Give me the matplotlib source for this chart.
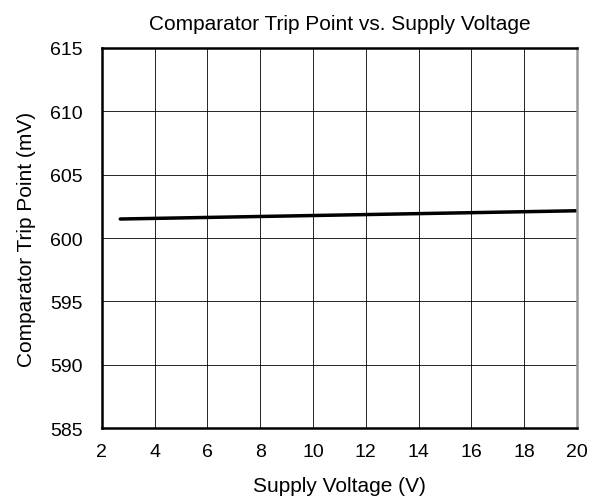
import matplotlib
matplotlib.use("Agg")
import matplotlib.pyplot as plt

plt.rcParams['font.family'] = ['Liberation Sans', 'DejaVu Sans']

supply_v = [2.7, 20.0]
trip_mv = [601.5, 602.15]
xticks = [2, 4, 6, 8, 10, 12, 14, 16, 18, 20]
yticks = [585, 590, 595, 600, 605, 610, 615]

fig = plt.figure(figsize=(5.99, 5.02), dpi=100)
ax = fig.add_axes([0.170, 0.1454, 0.793, 0.757])
ax.plot(supply_v, trip_mv, color='black', lw=2.5, solid_capstyle='round')
ax.set_xlim(2, 20)
ax.set_ylim(585, 615)
ax.set_xticks(xticks)
ax.set_yticks(yticks)
ax.grid(True, color='black', lw=0.6)
ax.tick_params(axis='x', length=0, labelsize=14, pad=11)
ax.tick_params(axis='y', length=0, labelsize=14, pad=14)
for s in ['left', 'bottom', 'top']:
    ax.spines[s].set_linewidth(1.8)
    ax.spines[s].set_color('black')
ax.spines['right'].set_linewidth(1.8)
ax.spines['right'].set_color('#999999')
ax.set_title('Comparator Trip Point vs. Supply Voltage', fontsize=15, pad=14)
ax.set_xlabel('Supply Voltage (V)', fontsize=15, labelpad=11)
ax.set_ylabel('Comparator Trip Point (mV)', fontsize=15, labelpad=10)
fig.savefig('out.png', dpi=100)
